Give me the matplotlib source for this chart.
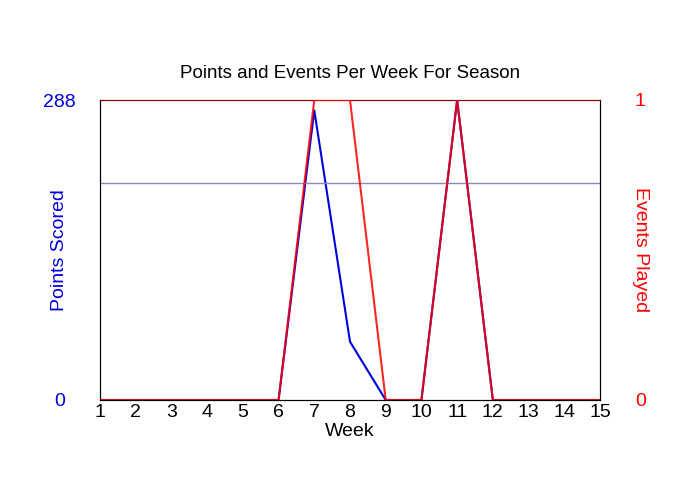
import matplotlib
matplotlib.use("Agg")
import matplotlib.pyplot as plt

weeks = list(range(1, 16))
points = [0, 0, 0, 0, 0, 0, 278, 56, 0, 0, 288, 0, 0, 0, 0]
events = [0, 0, 0, 0, 0, 0, 1, 1, 0, 0, 1, 0, 0, 0, 0]
ref_line = 208

plt.rcParams['font.family'] = ['Liberation Sans', 'DejaVu Sans']

fig = plt.figure(figsize=(7, 5), dpi=100)
ax = fig.add_axes([100/700, 100/500, 500/700, 300/500])
ax2 = ax.twinx()

ax.plot(weeks, points, color='#0000dd', lw=1.5, zorder=2)
ax.axhline(ref_line, color='#8888bb', lw=1)
ax2.plot(weeks, events, color='red', lw=1.5, alpha=0.85, zorder=3)

ax.set_xlim(1, 15)
ax.set_ylim(0, 288)
ax2.set_ylim(0, 1)
ax.set_xticks(weeks)
ax.set_xticklabels([str(w) for w in weeks], fontsize=14)
ax.set_yticks([0, 288])
ax.set_yticklabels(['0', '288'], fontsize=14, color='#0000dd', ha='center')
ax2.set_yticks([0, 1])
ax2.set_yticklabels(['0', '1'], fontsize=14, color='red', ha='center')
ax.tick_params(axis='x', length=0, pad=3)
ax.tick_params(axis='y', length=0, pad=29)
ax2.tick_params(axis='y', length=0, pad=29)

for a in (ax, ax2):
    a.spines['top'].set_color('#800000')
    a.spines['left'].set_color('black')
    a.spines['right'].set_color('black')
    a.spines['bottom'].set_color('black')

fig.text(350/700, 1 - 432/500, 'Week', fontsize=14, ha='center', va='center')
fig.text(60/700, 0.5, 'Points Scored', fontsize=14, color='#0000dd',
         rotation=90, ha='center', va='center')
fig.text(640/700, 0.5, 'Events Played', fontsize=14, color='red',
         rotation=270, ha='center', va='center')
fig.text(350/700, 1 - 73/500, 'Points and Events Per Week For Season',
         fontsize=13.5, ha='center', va='center')

fig.savefig('out.png', dpi=100)
